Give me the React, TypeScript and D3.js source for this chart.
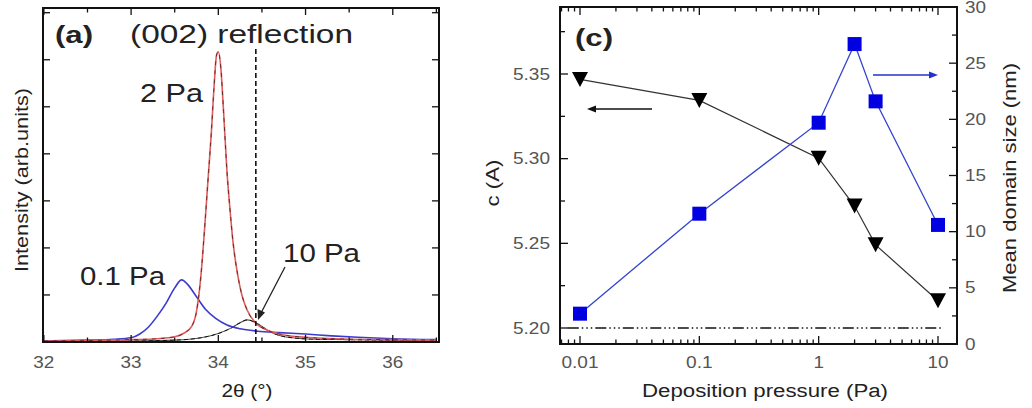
import React from 'react';
import * as d3 from 'd3';

// ---------- Panel (a): XRD (002) reflection ----------
const thetaLow = [32.0, 32.5, 32.8, 33.0, 33.1, 33.2, 33.3, 33.4, 33.5, 33.58, 33.65, 33.75, 33.85, 33.97, 34.1, 34.25, 34.45, 34.7, 35.0, 35.3, 35.6, 36.0, 36.5];
const intLow = [0.02, 0.04, 0.06, 0.09, 0.17, 0.32, 0.55, 0.82, 1.15, 1.32, 1.22, 0.96, 0.7, 0.5, 0.36, 0.28, 0.23, 0.2, 0.17, 0.13, 0.1, 0.07, 0.05];

const thetaMid = [32.0, 32.5, 33.0, 33.3, 33.5, 33.6, 33.7, 33.75, 33.8, 33.85, 33.88, 33.92, 33.95, 33.98, 34.0, 34.03, 34.06, 34.1, 34.13, 34.17, 34.22, 34.27, 34.33, 34.43, 34.55, 34.75, 35.0, 35.5, 36.0, 36.5];
const intMid = [0.02, 0.03, 0.05, 0.07, 0.11, 0.18, 0.35, 0.65, 1.4, 2.6, 3.4, 4.45, 5.4, 6.1, 6.17, 5.8, 4.9, 3.6, 2.9, 2.1, 1.45, 1.0, 0.68, 0.4, 0.26, 0.15, 0.1, 0.06, 0.05, 0.04];

const thetaHigh = [32.0, 33.0, 33.5, 33.8, 34.0, 34.15, 34.25, 34.33, 34.42, 34.5, 34.6, 34.7, 34.85, 35.1, 35.5, 36.0, 36.5];
const intHigh = [0.01, 0.02, 0.04, 0.09, 0.18, 0.3, 0.41, 0.47, 0.42, 0.33, 0.21, 0.14, 0.09, 0.06, 0.05, 0.04, 0.04];

const refTheta = 34.43;
const thetaTicks = [32, 33, 34, 35, 36];

// ---------- Panel (c): lattice parameter & domain size ----------
const pressures = [0.01, 0.1, 1, 2, 3, 10];
const latticeC = [5.3468, 5.3344, 5.3003, 5.272, 5.2491, 5.2161];
const domainSize = [2.7, 11.6, 19.7, 26.7, 21.6, 10.6];
const bulkC = 5.2;
const bulkRange = [0.0079, 11];
const pressureTicks = [0.01, 0.1, 1, 10];
const pressureTickLabels = ['0.01', '0.1', '1', '10'];
const cTicks = [5.2, 5.25, 5.3, 5.35];
const cTickLabels = ['5.20', '5.25', '5.30', '5.35'];
const sizeTicks = [0, 5, 10, 15, 20, 25, 30];

const FONT = '"Liberation Sans", Arial, Helvetica, sans-serif';

function labelLen(s: string) {
  let w = 0;
  for (const ch of s) w += ch === '.' ? 5.5 : 10.5;
  return w;
}

function Txt(props: any) {
  const { x, y, len, size, anchor = 'start', weight = 'normal', fill = '#222', rotate = false, children } = props;
  return (
    <text
      x={x}
      y={y}
      fontSize={size}
      fontWeight={weight}
      fontFamily={FONT}
      fill={fill}
      textAnchor={anchor}
      textLength={len}
      lengthAdjust="spacingAndGlyphs"
      transform={rotate ? `rotate(-90 ${x} ${y})` : undefined}
    >
      {children}
    </text>
  );
}

export default function App() {
  // panel a frame
  const aL = 43, aR = 439, aT = 8, aB = 342;
  const xa = d3.scaleLinear().domain([31.99, 36.53]).range([aL, aR]);
  const ya = d3.scaleLinear().domain([0, 7.1]).range([aB, aT]);
  const lineA = (xs: number[], ys: number[]) =>
    d3.line<number>().x((_, i) => xa(xs[i])).y((_, i) => ya(ys[i])).curve(d3.curveMonotoneX)(xs.map((_, i) => i)) || '';

  // panel c frame
  const cL = 560, cR = 957, cT = 7, cB = 344;
  const xc = d3.scaleLog().domain([0.01, 10]).range([580, 938]);
  const yc = d3.scaleLinear().domain([5.2, 5.35]).range([328, 74]);
  const ys = d3.scaleLinear().domain([0, 30]).range([344, 7]);

  const cLine = d3.line<number>().x((_, i) => xc(pressures[i])).y((_, i) => yc(latticeC[i]))(pressures.map((_, i) => i)) || '';
  const sLine = d3.line<number>().x((_, i) => xc(pressures[i])).y((_, i) => ys(domainSize[i]))(pressures.map((_, i) => i)) || '';

  const aXTicks = d3.range(32, 36.51, 0.5);
  const aYTicks = d3.range(1, 7.01, 1);

  const logTicks: { v: number; major: boolean }[] = [];
  [0.001, 0.01, 0.1, 1, 10].forEach((dec) => {
    for (let m = 1; m <= 9; m++) {
      const v = dec * m;
      const px = xc(v);
      if (px >= cL + 1 && px <= cR - 1) logTicks.push({ v, major: m === 1 });
    }
  });
  const cMinor = d3.range(5.2, 5.39, 0.025).filter((v) => yc(v) > cT + 1 && yc(v) < cB - 1);
  const sMinor = d3.range(0, 30.01, 2.5);

  const arrowHead = (x: number, y: number, dir: number, color: string) => (
    <path d={`M${x},${y} L${x - dir * 9},${y - 3.5} L${x - dir * 9},${y + 3.5} Z`} fill={color} />
  );

  return (
    <svg width={1032} height={408} style={{ position: 'absolute', left: 0, top: 0, background: '#fff' }}>
      <rect x={0} y={0} width={1032} height={408} fill="#fff" />
      {/* ===== Panel (a) ===== */}
      <defs>
        <clipPath id="clipA">
          <rect x={aL} y={aT} width={aR - aL} height={aB - aT} />
        </clipPath>
      </defs>
      <g clipPath="url(#clipA)">
        <path d={lineA(thetaHigh, intHigh)} fill="none" stroke="#555" strokeWidth={1.1} />
        <path d={lineA(thetaHigh, intHigh)} fill="none" stroke="#111" strokeWidth={1} strokeDasharray="4 3" />
        <path d={lineA(thetaLow, intLow)} fill="none" stroke="#3b3bd0" strokeWidth={1.6} />
        <path d={lineA(thetaMid, intMid)} fill="none" stroke="#e85a5a" strokeWidth={1.6} />
        <path d={lineA(thetaMid, intMid)} fill="none" stroke="#222" strokeWidth={0.9} strokeDasharray="4 5" opacity={0.8} />
      </g>
      <line x1={xa(refTheta)} x2={xa(refTheta)} y1={49} y2={aB} stroke="#111" strokeWidth={1.6} strokeDasharray="5 3" />
      {/* arrow to 10 Pa */}
      <line x1={285} y1={267} x2={261} y2={313} stroke="#222" strokeWidth={1.3} />
      <path d="M258,320 L257.5,309 L265,312.5 Z" fill="#222" />

      {/* ticks a */}
      {aXTicks.map((v) => {
        const len = Math.abs(v - Math.round(v)) < 1e-6 ? 7 : 4.5;
        return (
          <g key={'ax' + v}>
            <line x1={xa(v)} x2={xa(v)} y1={aB} y2={aB - len} stroke="#111" strokeWidth={1.3} />
            <line x1={xa(v)} x2={xa(v)} y1={aT} y2={aT + len} stroke="#111" strokeWidth={1.3} />
          </g>
        );
      })}
      {aYTicks.map((v) => (
        <g key={'ay' + v}>
          <line x1={aL} x2={aL + 7} y1={ya(v)} y2={ya(v)} stroke="#111" strokeWidth={1.3} />
          <line x1={aR} x2={aR - 7} y1={ya(v)} y2={ya(v)} stroke="#111" strokeWidth={1.3} />
        </g>
      ))}
      <rect x={aL} y={aT} width={aR - aL} height={aB - aT} fill="none" stroke="#111" strokeWidth={2} />
      {thetaTicks.map((v) => (
        <Txt key={'axl' + v} x={xa(v)} y={368} size={16} len={labelLen(String(v))} anchor="middle" fill="#555">
          {String(v)}
        </Txt>
      ))}
      <Txt x={247} y={397} size={18} len={51} anchor="middle">2θ (°)</Txt>
      <Txt x={28} y={180} size={18} len={184} anchor="middle" rotate>Intensity (arb.units)</Txt>

      <Txt x={55} y={43} size={24} len={38} weight="bold">(a)</Txt>
      <Txt x={130} y={43} size={25} len={223}>(002) reflection</Txt>
      <Txt x={140} y={102} size={25} len={63}>2 Pa</Txt>
      <Txt x={80} y={285} size={25} len={85}>0.1 Pa</Txt>
      <Txt x={283} y={262} size={25} len={77}>10 Pa</Txt>

      {/* ===== Panel (c) ===== */}
      <line x1={xc(bulkRange[0])} x2={xc(bulkRange[1])} y1={yc(bulkC)} y2={yc(bulkC)} stroke="#111" strokeWidth={1.3} strokeDasharray="11 3 1.5 3 1.5 3 1.5 3" />
      <path d={cLine} fill="none" stroke="#333" strokeWidth={1.2} />
      <path d={sLine} fill="none" stroke="#3344cc" strokeWidth={1.3} />
      {pressures.map((p, i) => {
        const x = xc(p), y = yc(latticeC[i]);
        return <path key={'tri' + i} d={`M${x - 8},${y - 7.5} L${x + 8},${y - 7.5} L${x},${y + 7.5} Z`} fill="#000" />;
      })}
      {pressures.map((p, i) => (
        <rect key={'sq' + i} x={xc(p) - 7} y={ys(domainSize[i]) - 7} width={14} height={14} fill="#0000e0" />
      ))}
      {/* direction arrows */}
      <line x1={652} x2={594} y1={109} y2={109} stroke="#111" strokeWidth={1.5} />
      {arrowHead(587, 109, -1, '#111')}
      <line x1={873} x2={931} y1={75} y2={75} stroke="#2233cc" strokeWidth={1.5} />
      {arrowHead(938, 75, 1, '#2233cc')}

      {/* ticks c */}
      {logTicks.map((t, i) => {
        const len = t.major ? 8 : 4.5;
        const x = xc(t.v);
        return (
          <g key={'lt' + i}>
            <line x1={x} x2={x} y1={cB} y2={cB - len} stroke="#111" strokeWidth={1.3} />
            <line x1={x} x2={x} y1={cT} y2={cT + len} stroke="#111" strokeWidth={1.3} />
          </g>
        );
      })}
      {cMinor.map((v, i) => {
        const major = Math.abs((v - 5.2) / 0.05 - Math.round((v - 5.2) / 0.05)) < 1e-6;
        return <line key={'cy' + i} x1={cL} x2={cL + (major ? 8 : 5)} y1={yc(v)} y2={yc(v)} stroke="#111" strokeWidth={1.3} />;
      })}
      {sMinor.map((v, i) => {
        const major = v % 5 === 0;
        return <line key={'sy' + i} x1={cR} x2={cR - (major ? 8 : 5)} y1={ys(v)} y2={ys(v)} stroke="#111" strokeWidth={1.3} />;
      })}
      <rect x={cL} y={cT} width={cR - cL} height={cB - cT} fill="none" stroke="#111" strokeWidth={2} />

      {pressureTicks.map((v, i) => (
        <Txt key={'pl' + i} x={xc(v)} y={368} size={16} len={labelLen(pressureTickLabels[i])} anchor="middle" fill="#555">
          {pressureTickLabels[i]}
        </Txt>
      ))}
      {cTicks.map((v, i) => (
        <Txt key={'cl' + i} x={550} y={yc(v) + 5.5} size={16} len={labelLen(cTickLabels[i])} anchor="end" fill="#555">
          {cTickLabels[i]}
        </Txt>
      ))}
      {sizeTicks.map((v) => (
        <Txt key={'sl' + v} x={965} y={ys(v) + 5.5} size={16} len={labelLen(String(v))} fill="#555">
          {String(v)}
        </Txt>
      ))}
      <Txt x={765} y={397} size={18} len={246} anchor="middle">Deposition pressure (Pa)</Txt>
      <Txt x={499} y={183} size={18} len={47} anchor="middle" rotate>c (A)</Txt>
      <Txt x={1016} y={178} size={18} len={230} anchor="middle" rotate>Mean domain size (nm)</Txt>
      <Txt x={575} y={46} size={24} len={38} weight="bold">(c)</Txt>
    </svg>
  );
}
